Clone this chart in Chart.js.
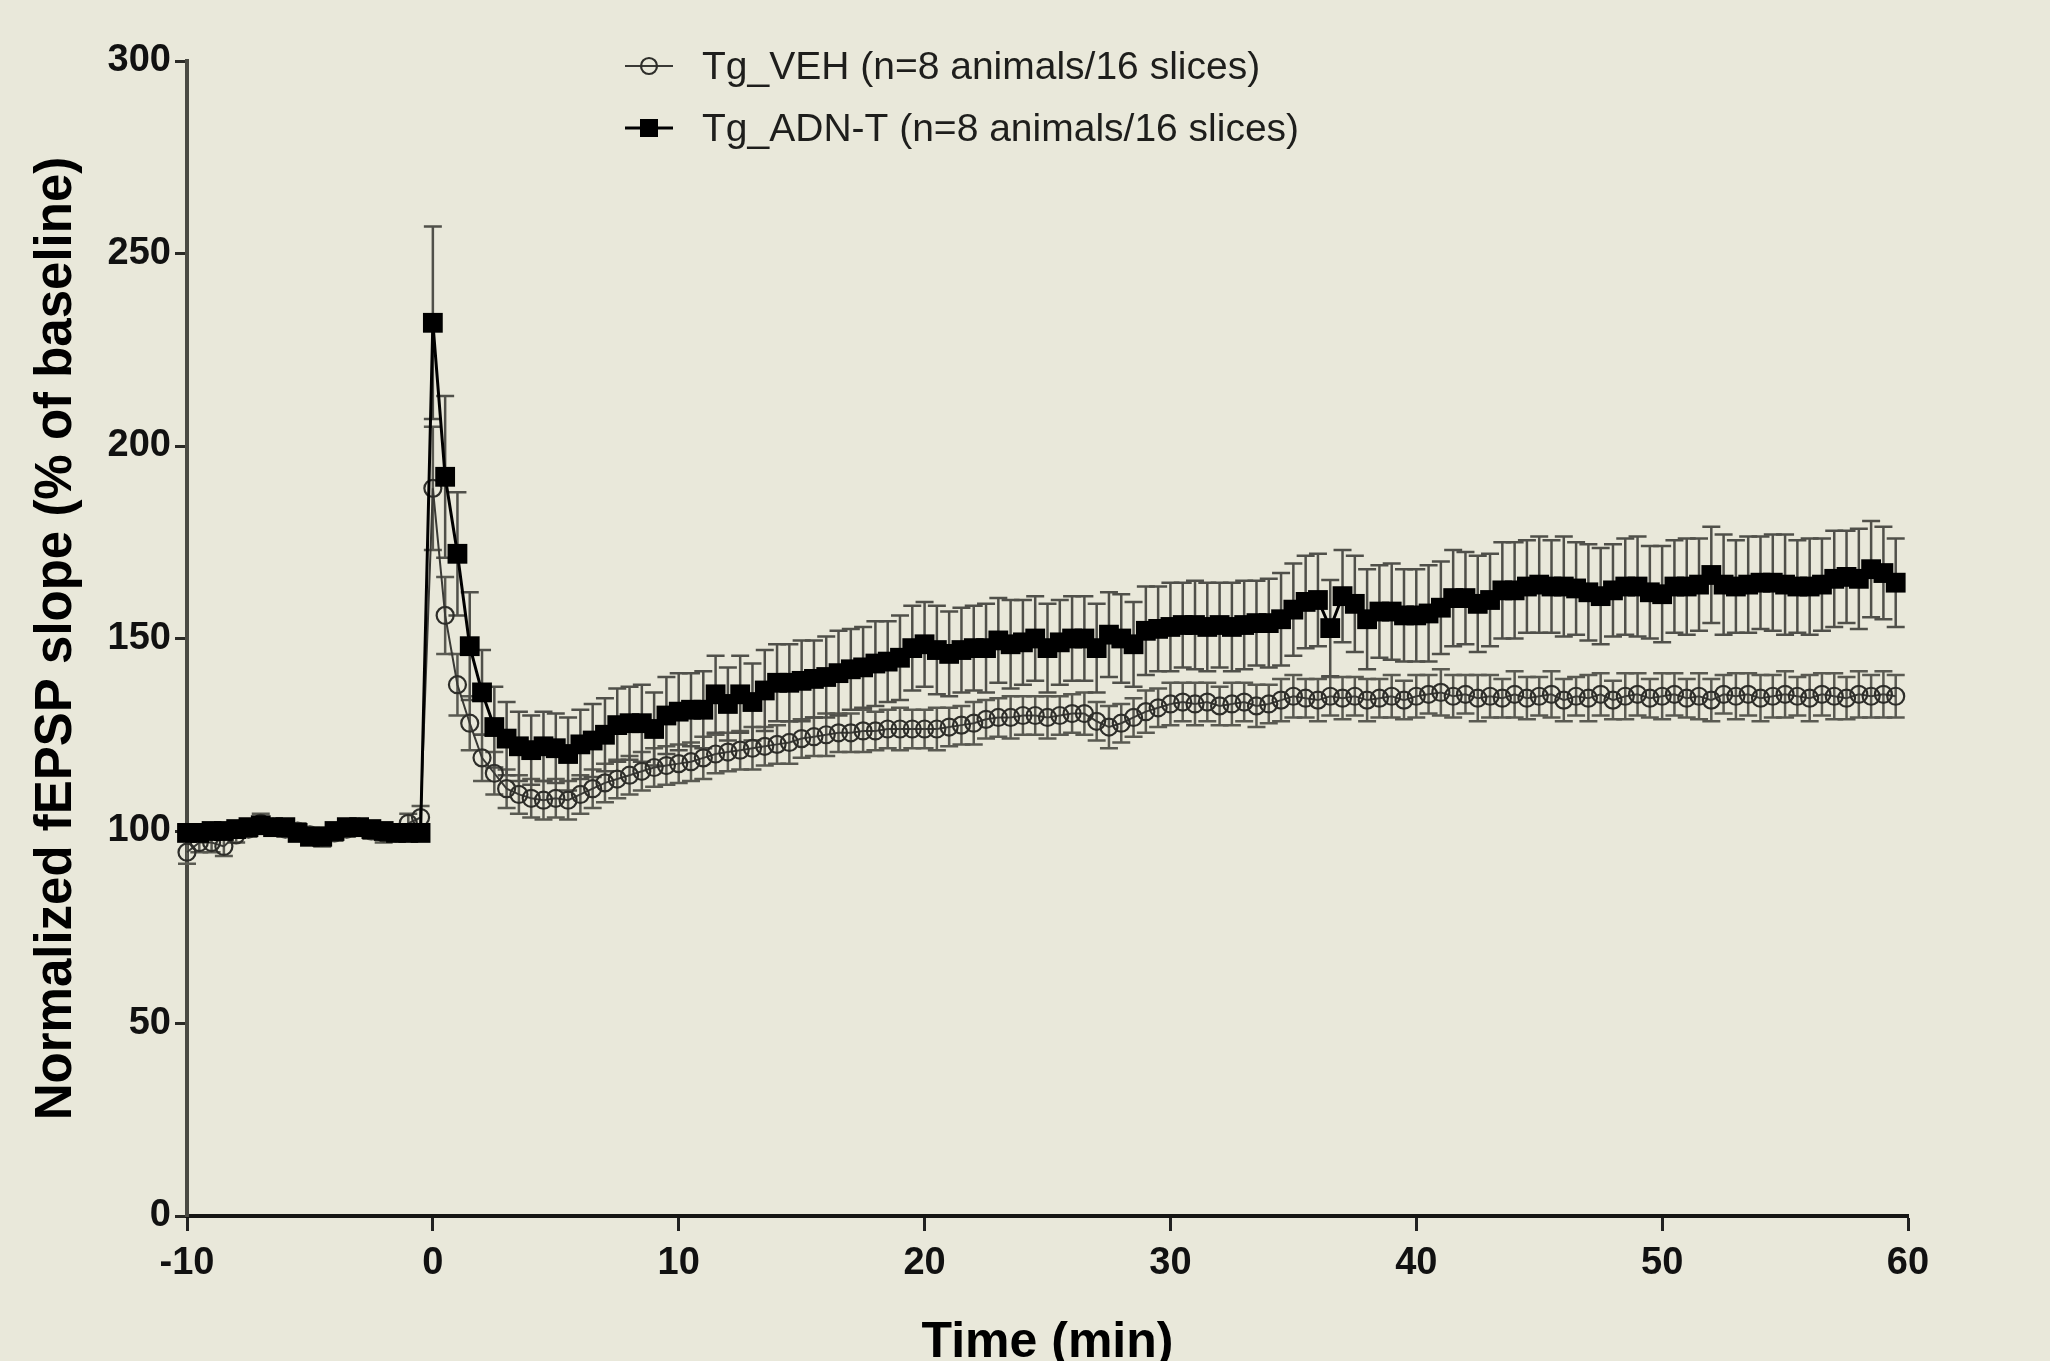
<!DOCTYPE html>
<html>
<head>
<meta charset="utf-8">
<script src="https://cdn.jsdelivr.net/npm/chart.js@4.4.1/dist/chart.umd.min.js"></script>
<style>
html,body{margin:0;padding:0;background:#e9e8da;overflow:hidden;}
#wrap{width:2050px;height:1400px;}
canvas{display:block;}
</style>
</head>
<body>
<div id="wrap"><canvas id="c" width="2050" height="1400"></canvas></div>
<script>
// ---- data ----
const timeMin = [
-10,-9.5,-9,-8.5,-8,-7.5,-7,-6.5,-6,-5.5,-5,-4.5,-4,-3.5,-3,-2.5,-2,-1.5,-1,-0.5,
0,0.5,1,1.5,2,2.5,3,3.5,4,4.5,5,5.5,6,6.5,7,7.5,8,8.5,9,9.5,
10,10.5,11,11.5,12,12.5,13,13.5,14,14.5,15,15.5,16,16.5,17,17.5,18,18.5,19,19.5,
20,20.5,21,21.5,22,22.5,23,23.5,24,24.5,25,25.5,26,26.5,27,27.5,28,28.5,29,29.5,
30,30.5,31,31.5,32,32.5,33,33.5,34,34.5,35,35.5,36,36.5,37,37.5,38,38.5,39,39.5,
40,40.5,41,41.5,42,42.5,43,43.5,44,44.5,45,45.5,46,46.5,47,47.5,48,48.5,49,49.5,
50,50.5,51,51.5,52,52.5,53,53.5,54,54.5,55,55.5,56,56.5,57,57.5,58,58.5,59,59.5
];

const vehMean = [
94.5,97,97,96,99,100.5,102,101,100.5,100,99,98.5,99.5,100.5,101,100,99.5,99.5,102,103.5,
189,156,138,128,119,115,111,109.5,108.5,108,108.5,108,109.5,111,112.5,113.5,114.5,115.5,116.5,117,
117.5,118,119,120,120.5,121,121.5,122,122.5,123,124,124.5,125,125.5,125.5,126,126,126.5,126.5,126.5,
126.5,126.5,127,127.5,128,129,129.5,129.5,130,130,129.5,130,130.5,130.5,128.5,127,128,129.5,131,132,
133,133.5,133,133.5,132.5,133,133.5,132.5,133,134,135,134.5,134,135,134.5,135,134,134.5,135,134,
135,135.5,136,135,135.5,134.5,135,134.5,135.5,134.5,135,135.5,134,135,134.5,135.5,134,135,135.5,134.5,
135,135.5,134.5,135,134,135.5,135,135.5,134.5,135,135.5,135,134.5,135.5,135,134.5,135.5,135,135.5,135
];

const vehSem = [
3,2.5,2.5,2.5,2,2,2.5,2,2,2,2,2.5,2,2,2,2,2.5,2,2.5,3,
16,10,8,7,6,5.5,5,5,5,5,5,5,5,5,5,5,5,5,5,5,
5,5,5.5,5,5,5,5.5,5,5,5.5,5,5,5.5,5,5,5.5,5,5,5.5,5,
5,5.5,5,5,5.5,5,5,5.5,5,5,5.5,5,5,5.5,5,5.5,5,5,5.5,5,
5.5,5,5.5,5,5,5.5,5,5.5,5,5.5,5.5,5,5.5,5,5.5,5,5.5,5,5.5,5,
5.5,5,6,5.5,5,6,5.5,5,6,5.5,5,6,5.5,5,6,5.5,5,6,5.5,5,
6,5.5,5,6,5.5,5,6,5.5,6,5.5,6,5,6,5.5,6,5.5,6,5.5,6,5.5
];

const adnMean = [
99.5,99.5,100,100,100.5,101,101.5,101,101,99.5,98.5,98.5,100,101,101,100.5,100,99.5,99.5,99.5,
232,192,172,148,136,127,124,122,121,122,121.5,120,122.5,123.5,125,127.5,128,128,126.5,130,
131,131.5,131.5,135.5,133,135.5,133.5,136.5,138.5,138.5,139,139.5,140,141,142,142.5,143.5,144,145,147.5,
148.5,147,146,147,147.5,147.5,149.5,148.5,149,150,147.5,149,150,150,147.5,151,150,148.5,152,152.5,
153,153.5,153.5,153,153.5,153,153.5,154,154,155,157.5,159.5,160,152.7,161,159,155,157,157,156,
156,156.5,158,160.5,160.5,159,160,162.5,162.5,163.5,164,163.5,163.5,163,162,161,162.5,163.5,163.5,162,
161.5,163.5,163.5,164,166.5,164,163.5,164,164.5,164.5,164,163.5,163.5,164,165.5,166,165.5,168,167,164.5
];

const adnSem = [
1.5,1.5,2,1.5,1.5,2,1.5,1.5,2,1.5,1.5,2,1.5,1.5,2,1.5,1.5,2,1.5,2,
25,21,16,14,11,10.5,9.5,9,9,9,9,9.5,9,9.5,9.5,9.5,9.5,10,9.5,10,
10,9.5,10,10,9.5,10,10,10.5,10,10,10.5,10,10.5,11,10.5,10.5,11,10.5,11,11,
11,11.5,11,11,11,11.5,11,11.5,11,11,11.5,11,11,11,11.5,11,11.5,11,11.5,11,
11.5,11,11.5,11.5,11,11.5,11.5,11,11.5,12,12,12,12,12.5,12,12.5,13,12,12.5,12,
12,12.5,12,12.5,12,12.5,12,12.5,12.5,12,12.5,12,13,12,12.5,12.5,12,12.5,13,12,
12.5,12,12.5,12,12.5,13,12,12.5,12,12.5,13,12,12.5,12,12.5,12,13,12.5,12,11.5
];

const seriesLabels = ['Tg_VEH (n=8 animals/16 slices)', 'Tg_ADN-T (n=8 animals/16 slices)'];
const xTitle = 'Time (min)';
const yTitle = 'Normalized fEPSP slope (% of baseline)';

// ---- chart ----
const FONT = '"Liberation Sans", Arial, Helvetica, sans-serif';
const toPoints = (m) => timeMin.map((t, i) => ({x: t, y: m[i]}));

const errorBarPlugin = {
  id: 'errorBars',
  beforeDatasetsDraw(chart, args, opts) {
    const {ctx} = chart;
    const xs = chart.scales.x, ys = chart.scales.y;
    ctx.save();
    ctx.lineCap = 'butt';
    chart.data.datasets.forEach((ds) => {
      const err = ds.errorBars;
      if (!err) return;
      ctx.strokeStyle = ds.errorBarColor || opts.color;
      ctx.lineWidth = opts.width;
      ds.data.forEach((p, j) => {
        const px = xs.getPixelForValue(p.x);
        const yt = ys.getPixelForValue(p.y + err[j]);
        const yb = ys.getPixelForValue(p.y - err[j]);
        ctx.beginPath();
        ctx.moveTo(px, yt); ctx.lineTo(px, yb);
        ctx.moveTo(px - opts.cap, yt); ctx.lineTo(px + opts.cap, yt);
        ctx.moveTo(px - opts.cap, yb); ctx.lineTo(px + opts.cap, yb);
        ctx.stroke();
      });
    });
    ctx.restore();
  }
};

const legendPlugin = {
  id: 'innerLegend',
  afterDraw(chart, args, opts) {
    const {ctx} = chart;
    ctx.save();
    ctx.font = opts.font;
    ctx.textBaseline = 'middle';
    ctx.textAlign = 'left';
    chart.data.datasets.forEach((ds, i) => {
      const y = opts.y + i * opts.rowGap;
      const x0 = opts.x, x1 = opts.x + opts.lineLen, xc = (x0 + x1) / 2;
      ctx.strokeStyle = ds.borderColor;
      ctx.lineWidth = ds.borderWidth;
      ctx.beginPath(); ctx.moveTo(x0, y); ctx.lineTo(x1, y); ctx.stroke();
      if (ds.pointStyle === 'rect') {
        const s = opts.square;
        ctx.fillStyle = ds.pointBackgroundColor;
        ctx.fillRect(xc - s / 2, y - s / 2, s, s);
      } else {
        ctx.lineWidth = ds.pointBorderWidth;
        ctx.strokeStyle = ds.pointBorderColor;
        ctx.beginPath(); ctx.arc(xc, y, opts.circle, 0, Math.PI * 2); ctx.stroke();
      }
      ctx.fillStyle = opts.color;
      ctx.fillText(ds.label, opts.textX, y + 2);
    });
    ctx.restore();
  }
};

const H = 1400;
new Chart(document.getElementById('c'), {
  type: 'line',
  data: {
    datasets: [
      {
        label: seriesLabels[0],
        data: toPoints(vehMean),
        errorBars: vehSem,
        errorBarColor: '#5a5a52',
        borderColor: '#3a3a36',
        borderWidth: 2,
        pointStyle: 'circle',
        pointRadius: 8.5,
        pointBorderWidth: 2.2,
        pointBorderColor: '#2e2e2a',
        pointBackgroundColor: 'rgba(0,0,0,0)',
        tension: 0,
        clip: false,
        order: 2
      },
      {
        label: seriesLabels[1],
        data: toPoints(adnMean),
        errorBars: adnSem,
        errorBarColor: '#50504a',
        borderColor: '#000000',
        borderWidth: 3,
        pointStyle: 'rect',
        pointRadius: 14,
        pointBorderWidth: 0,
        pointBorderColor: '#000000',
        pointBackgroundColor: '#000000',
        tension: 0,
        clip: false,
        order: 1
      }
    ]
  },
  options: {
    responsive: false,
    devicePixelRatio: 1,
    animation: false,
    events: [],
    layout: { padding: { top: 61, right: 142, bottom: 0, left: 0 } },
    plugins: {
      legend: { display: false },
      tooltip: { enabled: false },
      errorBars: { color: '#55554d', width: 2.5, cap: 9 },
      innerLegend: {
        x: 625, lineLen: 48, y: 66, rowGap: 62, textX: 702,
        square: 18, circle: 8,
        font: '39px ' + FONT, color: '#1e1e1c'
      }
    },
    scales: {
      x: {
        type: 'linear',
        min: -10, max: 60,
        afterFit(scale) { scale.height = H - 1216; },
        ticks: {
          stepSize: 10,
          padding: 10,
          color: '#111',
          font: { family: FONT, size: 38, weight: 'bold' },
          maxRotation: 0
        },
        grid: { display: true, drawOnChartArea: false, drawTicks: true, tickLength: 15, tickWidth: 3, tickColor: '#222' },
        border: { display: true, color: '#151513', width: 4 },
        title: {
          display: true, text: xTitle, color: '#000',
          font: { family: FONT, size: 50, weight: 'bold' },
          padding: { top: 0, bottom: 27 }
        }
      },
      y: {
        type: 'linear',
        min: 0, max: 300,
        afterFit(scale) { scale.width = 187; },
        ticks: {
          stepSize: 50,
          padding: 4,
          color: '#111',
          font: { family: FONT, size: 38, weight: 'bold' }
        },
        grid: { display: true, drawOnChartArea: false, drawTicks: true, tickLength: 12, tickWidth: 3, tickColor: '#2a2a26' },
        border: { display: true, color: '#4a4a43', width: 4 },
        title: {
          display: true, text: yTitle, color: '#000',
          font: { family: FONT, size: 51, weight: 'bold' },
          padding: { top: 26, bottom: 0 }
        }
      }
    }
  },
  plugins: [errorBarPlugin, legendPlugin]
});
</script>
</body>
</html>
